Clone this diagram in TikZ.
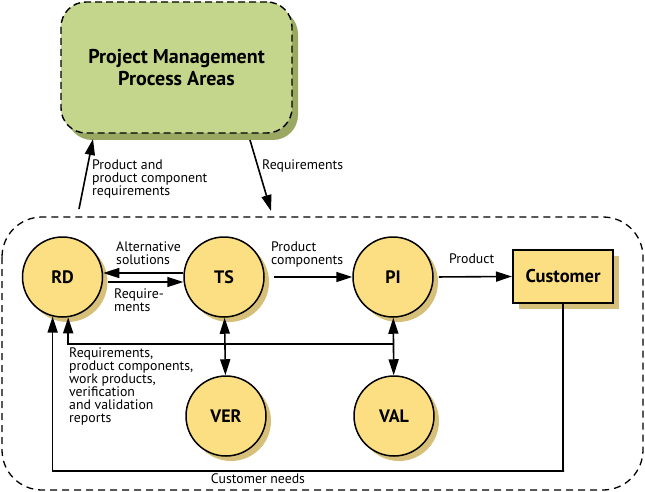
\documentclass[tikz,border=0pt]{standalone}
\usepackage{fontspec}
\setmainfont{PT Sans}
\usetikzlibrary{arrows.meta,shadows}
\definecolor{pmfill}{RGB}{196,214,139}
\definecolor{pmshadow}{RGB}{155,168,98}
\definecolor{yfill}{RGB}{253,223,131}
\definecolor{yshadow}{RGB}{214,191,120}
\tikzset{
  proc/.style={circle, draw=black, line width=1.5pt, fill=yfill, minimum size=80pt, inner sep=0pt,
    font=\fontsize{18}{20}\selectfont\bfseries,
    drop shadow={shadow xshift=5pt, shadow yshift=-5pt, fill=yshadow, opacity=1}},
  custbox/.style={rectangle, draw=black, line width=2pt, fill=yfill, minimum width=100pt, minimum height=53pt,
    font=\fontsize{18.5}{20}\selectfont\bfseries,
    drop shadow={shadow xshift=6pt, shadow yshift=-6pt, fill=yshadow, opacity=1}},
  pmbox/.style={rectangle, rounded corners=25pt, draw=black, line width=1.4pt, dash pattern=on 7pt off 4pt,
    fill=pmfill, minimum width=231pt, minimum height=131pt, align=center,
    font=\fontsize{20}{22}\selectfont\bfseries,
    drop shadow={shadow xshift=6pt, shadow yshift=-7pt, fill=pmshadow, opacity=1}},
  lbl/.style={inner sep=0pt, anchor=north west, align=left, font=\fontsize{13.8}{13}\selectfont},
  tip/.tip={Triangle[length=16pt,width=10pt]},
  conn/.style={line width=1.6pt, -tip},
  dconn/.style={line width=1.6pt, tip-tip},
}
\begin{document}
\begin{tikzpicture}[x=1pt,y=-1pt]
\useasboundingbox (0,0) rectangle (645,492);
% big dashed region
\draw[line width=1.3pt, dash pattern=on 7pt off 5pt, rounded corners=40pt] (2,217) rectangle (643,490);
% PM box
\node[pmbox] (PM) at (176.5,67.5) {Project Management\\Process Areas};
% process nodes
\node[proc] (RD) at (62.5,277) {RD};
\node[proc] (TS) at (224,277) {TS};
\node[proc] (PI) at (393,277) {PI};
\node[proc] (VER) at (226,416) {VER};
\node[proc] (VAL) at (394,416) {VAL};
\node[custbox] (Cust) at (563,276.5) {Customer};
% coordinates
\coordinate (pcs) at (79,209);
\coordinate (pct) at (93,139);
\coordinate (rqs) at (250,140);
\coordinate (rqt) at (271,211);
\coordinate (cn) at (564,471);
\coordinate (jv) at (394,344);
% connectors
\draw[conn] (pcs) -- (pct);
\draw[conn] (rqs) -- (rqt);
\draw[conn] ([yshift=4pt]TS.west) -- ([yshift=4pt]RD.east);
\draw[conn, shorten <=5pt] ([yshift=-5pt]RD.east) -- ([yshift=-5pt]TS.west);
\draw[conn, shorten <=9pt] (TS.east) -- (PI.west);
\draw[conn, shorten <=5pt] (PI.east) -- (Cust.west);
\draw[dconn] (TS) -- (VER);
\draw[dconn] (PI) -- (VAL);
\draw[conn] (jv) -| (RD.278);
\draw[conn] (Cust.south) |- (cn) -| (RD.256);
% labels
\node[lbl] (l1) at (92,160) {Product and\\product component\\requirements};
\node[lbl] (l2) at (262,160) {Requirements};
\node[lbl] (l3) at (116,241) {Alternative\\solutions};
\node[lbl] (l4) at (114,289) {Require-\\ments};
\node[lbl] (l5) at (271,242) {Product\\components};
\node[lbl] (l6) at (449,254) {Product};
\node[lbl] (l7) at (69,348) {Requirements,\\product components,\\work products,\\verification\\and validation\\reports};
\node[inner sep=0pt, font=\fontsize{13.8}{13}\selectfont] (l8) at (258,479) {Customer needs};
\end{tikzpicture}
\end{document}
